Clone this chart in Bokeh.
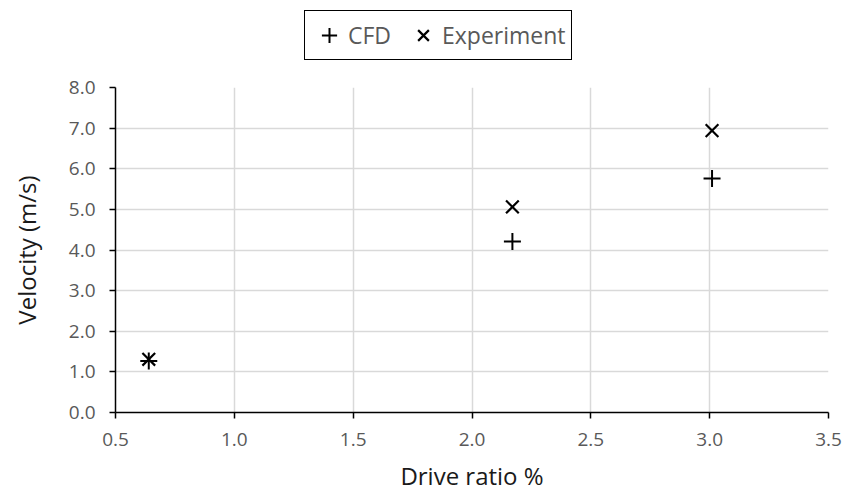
from bokeh.plotting import figure
from bokeh.layouts import column
from bokeh.models import Legend, LegendItem, PrintfTickFormatter, FixedTicker, Range1d
from bokeh.embed import file_html
from bokeh.resources import INLINE

cfd_x = [0.64, 2.17, 3.01]
cfd_y = [1.27, 4.21, 5.76]
exp_x = [0.64, 2.17, 3.01]
exp_y = [1.31, 5.06, 6.94]
x_ticks = [0.5, 1.0, 1.5, 2.0, 2.5, 3.0, 3.5]
y_ticks = [0, 1, 2, 3, 4, 5, 6, 7, 8]
series_names = ["CFD", "Experiment"]

FONT = "Open Sans"

# ---- main chart ----
p = figure(width=845, height=420, output_backend="svg", toolbar_location=None,
           x_range=Range1d(0.5, 3.5), y_range=Range1d(0, 8),
           min_border_left=115, min_border_right=17, min_border_top=12, min_border_bottom=83)
p.outline_line_color = None
p.background_fill_color = "white"

for ax in (p.xaxis[0], p.yaxis[0]):
    ax.axis_line_color = "black"
    ax.axis_line_width = 1.5
    ax.major_tick_line_color = "black"
    ax.major_tick_line_width = 1.5
    ax.major_tick_out = 6
    ax.major_tick_in = 0
    ax.minor_tick_line_color = None
    ax.major_label_text_font = FONT
    ax.major_label_text_font_size = "19px"
    ax.major_label_text_color = "#595959"
    ax.axis_label_text_font = FONT
    ax.axis_label_text_font_size = "24px"
    ax.axis_label_text_font_style = "normal"
    ax.axis_label_text_color = "#1a1a1a"
    ax.formatter = PrintfTickFormatter(format="%.1f")

p.xaxis.ticker = FixedTicker(ticks=x_ticks)
p.yaxis.ticker = FixedTicker(ticks=y_ticks)
p.xaxis.axis_label = "Drive ratio %"
p.yaxis.axis_label = "Velocity (m/s)"
p.xaxis.major_label_standoff = 14
p.yaxis.major_label_standoff = 14
p.xaxis.axis_label_standoff = 10
p.yaxis.axis_label_standoff = 23

p.xgrid.grid_line_color = "#d9d9d9"
p.ygrid.grid_line_color = "#d9d9d9"
p.xgrid.grid_line_width = 1.5
p.ygrid.grid_line_width = 1.5

p.scatter(cfd_x, cfd_y, marker="cross", size=17, line_color="black", line_width=2)
p.scatter(exp_x, exp_y, marker="x", size=18, line_color="black", line_width=2.2)

# ---- legend strip (its own glyphs lie outside its visible range) ----
lg = figure(width=845, height=75, output_backend="svg", toolbar_location=None,
            x_range=Range1d(100, 101), y_range=Range1d(100, 101),
            x_axis_location=None, y_axis_location=None,
            min_border_left=0, min_border_right=0, min_border_top=0, min_border_bottom=0)
lg.outline_line_color = None
lg.xgrid.visible = False
lg.ygrid.visible = False
g1 = lg.scatter(cfd_x, cfd_y, marker="cross", line_color="black", line_width=2)
g2 = lg.scatter(exp_x, exp_y, marker="x", line_color="black", line_width=2.2)

legend = Legend(items=[LegendItem(label=series_names[0], renderers=[g1]),
                       LegendItem(label=series_names[1], renderers=[g2])],
                orientation="horizontal", location=(189, 15),
                border_line_color="black", border_line_width=1.5, border_line_alpha=1.0,
                label_text_font=FONT, label_text_font_size="23px", label_text_color="#595959",
                label_height=28, glyph_height=38,
                glyph_width=38, label_standoff=-4, spacing=13, padding=5, margin=0)
lg.add_layout(legend, "center")

layout = column(lg, p, spacing=0)
open("out.html", "w").write(file_html(layout, INLINE))
